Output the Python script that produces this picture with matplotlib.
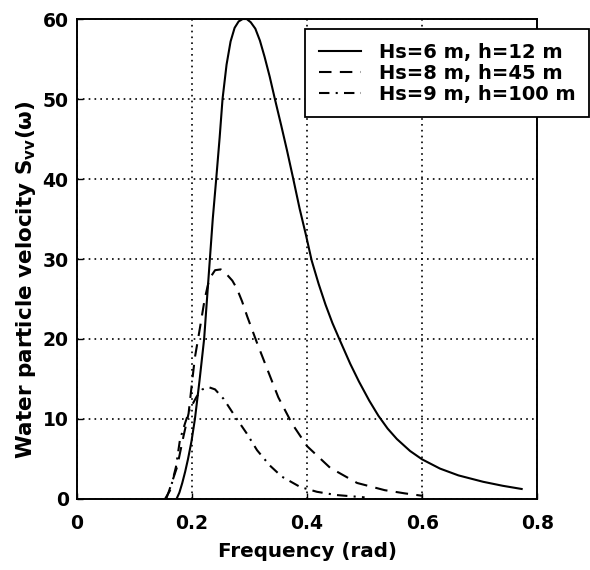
import numpy as np
import matplotlib
matplotlib.use("Agg")
import matplotlib.pyplot as plt

plt.rcParams['font.family'] = ['DejaVu Sans']
plt.rcParams['font.weight'] = 'bold'
plt.rcParams['axes.labelweight'] = 'bold'
plt.rcParams['mathtext.fontset'] = 'dejavusans'
plt.rcParams['mathtext.default'] = 'bf'

# Hs=6 m, h=12 m
freq_a = [0.173, 0.178, 0.183, 0.188, 0.193, 0.199, 0.205, 0.213, 0.221, 0.226, 0.231,
          0.236, 0.242, 0.248, 0.253, 0.26, 0.267, 0.274, 0.281, 0.288, 0.295, 0.302,
          0.31, 0.318, 0.326, 0.335, 0.344, 0.355, 0.365, 0.376, 0.387, 0.398, 0.408,
          0.42, 0.432, 0.444, 0.456, 0.475, 0.49, 0.508, 0.524, 0.54, 0.556, 0.579,
          0.60, 0.631, 0.663, 0.706, 0.74, 0.773]
vel_a = [0, 0.8, 2, 3.4, 5, 7.2, 10, 14.8, 20, 25, 30,
         35, 40, 45.2, 50, 54.3, 57.2, 58.9, 59.7, 60, 60, 59.6,
         58.8, 57.3, 55.3, 52.8, 50, 46.7, 43.6, 40, 36.3, 33, 29.8,
         26.9, 24.3, 22.0, 20, 16.9, 14.7, 12.3, 10.4, 8.8, 7.5, 6.0,
         4.95, 3.8, 2.95, 2.15, 1.65, 1.25]

# Hs=8 m, h=45 m
freq_b = [0.155, 0.16, 0.174, 0.185, 0.194, 0.2, 0.205, 0.214, 0.222, 0.23, 0.24, 0.25,
          0.26, 0.27, 0.278, 0.287, 0.296, 0.313, 0.332, 0.35, 0.374, 0.40, 0.44, 0.487,
          0.535, 0.57, 0.60]
vel_b = [0, 1, 4, 7.8, 10.7, 14.6, 17.7, 21.5, 25, 27.5, 28.6, 28.7,
         28.1, 27.3, 26.3, 24.7, 22.8, 19.5, 16, 12.7, 9.4, 6.6, 3.9, 2,
         1.1, 0.7, 0.4]

# Hs=9 m, h=100 m
freq_c = [0.153, 0.162, 0.172, 0.179, 0.188, 0.196, 0.208, 0.218, 0.228, 0.24, 0.255,
          0.275, 0.295, 0.313, 0.335, 0.356, 0.388, 0.417, 0.45, 0.5]
vel_c = [0, 1.1, 4, 7.4, 9.5, 11.2, 12.8, 13.7, 14, 13.7, 12.5,
         10.3, 8.2, 6.1, 4.2, 2.8, 1.5, 0.9, 0.5, 0.2]

labels = ['Hs=6 m, h=12 m', 'Hs=8 m, h=45 m', 'Hs=9 m, h=100 m']
xticks = [0, 0.2, 0.4, 0.6, 0.8]
yticks = [0, 10, 20, 30, 40, 50, 60]

fig = plt.figure(figsize=(5.9, 5.7), dpi=100)
ax = fig.add_axes([0.1305, 0.1246, 0.78, 0.842])

ax.plot(freq_a, vel_a, color='black', lw=1.5, linestyle='-', label=labels[0])
ax.plot(freq_b, vel_b, color='black', lw=1.5, linestyle=(0, (6, 4)), label=labels[1])
ax.plot(freq_c, vel_c, color='black', lw=1.5, linestyle=(0, (5, 3, 1, 3)), label=labels[2])

ax.set_xlim(0, 0.8)
ax.set_ylim(0, 60)
ax.set_xticks(xticks)
ax.set_yticks(yticks)
ax.set_xticklabels(['0', '0.2', '0.4', '0.6', '0.8'])
ax.tick_params(direction='in', labelsize=13.5, length=4, width=1)
ax.tick_params(axis='x', pad=11)
ax.tick_params(axis='y', pad=6)
ax.grid(True, color='black', linestyle=(0, (1, 2.5)), linewidth=1.2)
for s in ax.spines.values():
    s.set_linewidth(1.4)

ax.set_xlabel('Frequency (rad)', fontsize=14.3, labelpad=6)
ax.set_ylabel('Water particle velocity S$_{vv}$(ω)', fontsize=15.5)
ax.yaxis.set_label_coords(-0.085, 0.456)

leg = ax.legend(loc='upper right', bbox_to_anchor=(1.113, 0.979), borderaxespad=0,
                fontsize=14, fancybox=False, framealpha=1, edgecolor='black',
                handlelength=2.2, handletextpad=0.9, labelspacing=0.1, borderpad=0.7)
leg.get_frame().set_linewidth(1.3)

fig.savefig('out.png', dpi=100)
